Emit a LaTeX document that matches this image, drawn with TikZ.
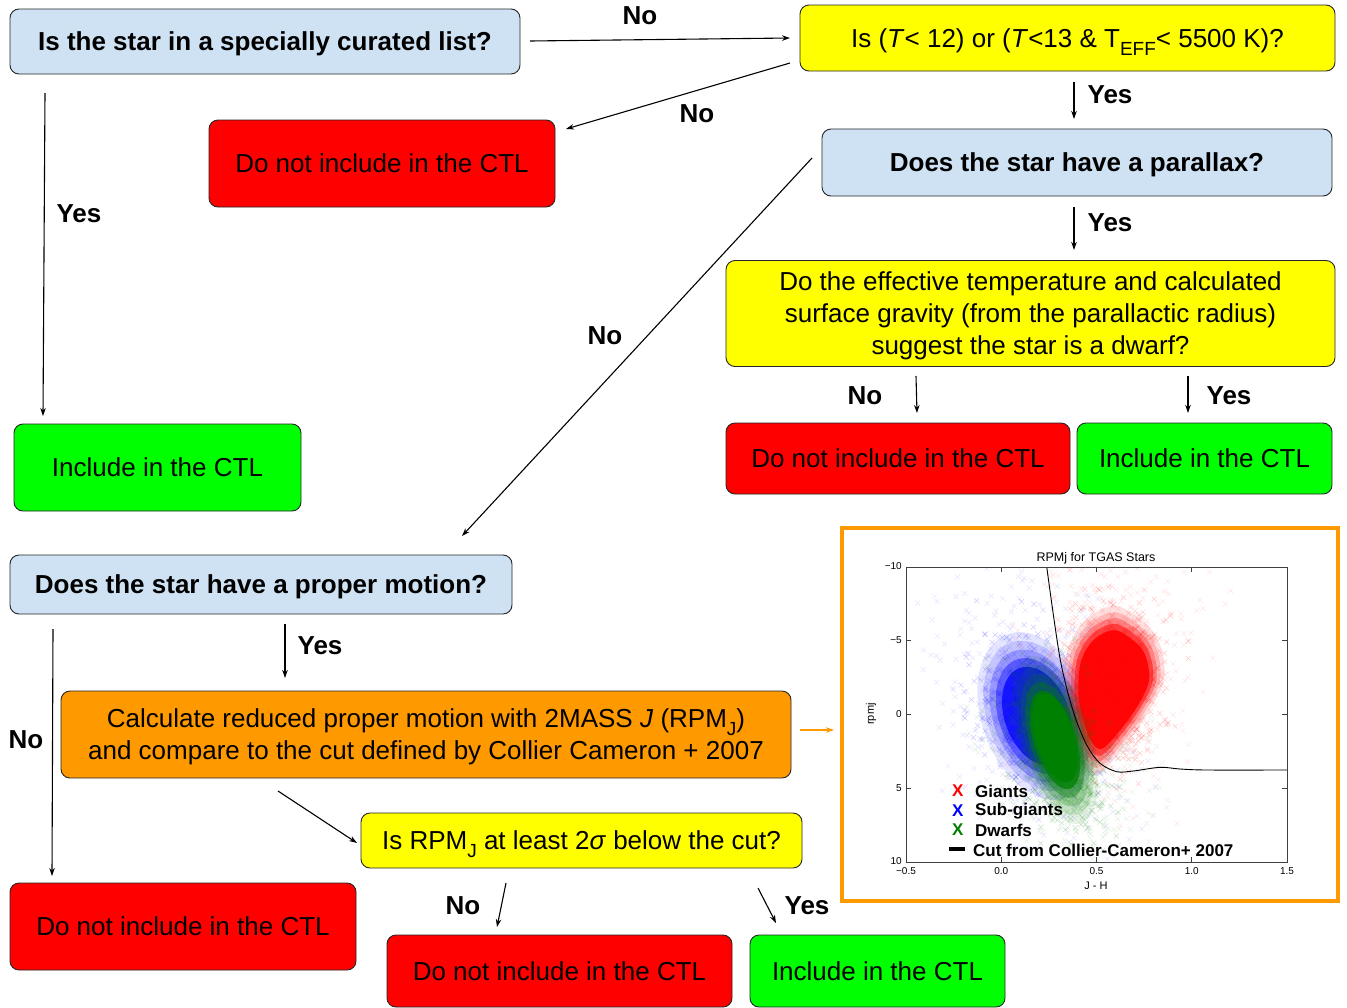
\documentclass[tikz,border=0pt]{standalone}
\usepackage{fontspec}
\setmainfont{Liberation Sans}
\usetikzlibrary{arrows.meta}
\definecolor{lblue}{HTML}{CFE2F3}
\definecolor{yel}{HTML}{FFFF00}
\definecolor{rd}{HTML}{FF0000}
\definecolor{gr}{HTML}{00FF00}
\definecolor{org}{HTML}{FF9900}
\definecolor{mgreen}{HTML}{008000}
\definecolor{mblue}{HTML}{0000FF}
\newcommand\starcloud[8]{%
  \foreach \k in {1,...,#7}{%
    \pgfmathsetmacro\cga{rand+rand+rand}%
    \pgfmathsetmacro\cgb{rand+rand+rand}%
    \pgfmathsetmacro\cqx{#2+#4*\cga*cos(#6)-#5*\cgb*sin(#6)}%
    \pgfmathsetmacro\cqy{#3+#4*\cga*sin(#6)+#5*\cgb*cos(#6)}%
    \draw[#1, opacity=#8, line width=.5pt] (\cqx-2.5,\cqy-2.5)--(\cqx+2.5,\cqy+2.5) (\cqx-2.5,\cqy+2.5)--(\cqx+2.5,\cqy-2.5);
  }}
\newcommand\coreell[7]{%
  \fill[#1, opacity=#7] plot[domain=0:352.5, samples=48, smooth cycle, variable=\s]
   ({#2+#4*cos(\s)*cos(#6)-#5*sin(\s)*sin(#6)},{#3+#4*cos(\s)*sin(#6)+#5*sin(\s)*cos(#6)});}
\newcommand\softell[6]{% color cx cy a b t : layered soft ellipse
  \foreach \f/\o in {1.45/0.10,1.3/0.14,1.15/0.22,1.0/0.4,0.85/0.75}{%
    \coreell{#1}{#2}{#3}{#4*\f}{#5*\f}{#6}{\o}}}
\begin{document}
\begin{tikzpicture}[x=1pt,y=-1pt,
  box/.style={draw=black!85, line width=0.9pt, rounded corners=9pt, align=center,
    font=\fontsize{26}{32}\selectfont, inner sep=0pt, text depth=0pt},
  bbox/.style={box, font=\fontsize{26}{32}\selectfont\bfseries},
  arr/.style={-{Stealth[length=8pt,width=5.5pt]}, line width=1.1pt},
  lbl/.style={font=\fontsize{26}{32}\selectfont\bfseries, inner sep=0pt},
  tick/.style={font=\fontsize{10}{12}\selectfont, inner sep=0pt},
  leg/.style={font=\fontsize{17}{20}\selectfont\bfseries, inner sep=0pt, anchor=west},
]
\useasboundingbox[fill=white] (0,0) rectangle (1347,1007);

% ---------- boxes ----------
\node[bbox, fill=lblue, minimum width=510pt, minimum height=65pt] (q1) at (265,41.5) {Is the star in a specially curated list?};
\node[box, fill=yel, minimum width=535pt, minimum height=66pt] (q2) at (1067.5,38) {Is (\textit{T}< 12) or (\textit{T}<13 \& T\raisebox{-0.3em}{\fontsize{19}{20}\selectfont EFF}< 5500 K)?};
\node[box, fill=rd, minimum width=346pt, minimum height=87pt] (r1) at (382,163.5) {Do not include in the CTL};
\node[bbox, fill=lblue, minimum width=510pt, minimum height=67pt] (q3) at (1077,162.5) {Does the star have a parallax?};
\node[box, fill=yel, minimum width=609pt, minimum height=106pt] (q4) at (1030.5,313.5) {Do the effective temperature and calculated\\surface gravity (from the parallactic radius)\\suggest the star is a dwarf?};
\node[box, fill=gr, minimum width=287pt, minimum height=87pt] (g1) at (157.5,467.5) {Include in the CTL};
\node[box, fill=rd, minimum width=344pt, minimum height=71pt] (r2) at (898,458.5) {Do not include in the CTL};
\node[box, fill=gr, minimum width=255pt, minimum height=71pt] (g2) at (1204.5,458.5) {Include in the CTL};
\node[bbox, fill=lblue, minimum width=502pt, minimum height=59pt] (q5) at (261,584.5) {Does the star have a proper motion?};
\node[box, fill=org, minimum width=730pt, minimum height=87pt] (c1) at (426,734.5) {Calculate reduced proper motion with 2MASS \textit{J} (RPM\raisebox{-0.3em}{\fontsize{19}{20}\selectfont J})\\and compare to the cut defined by Collier Cameron + 2007};
\node[box, fill=yel, minimum width=441pt, minimum height=55pt] (q6) at (581.5,840.5) {Is RPM\raisebox{-0.3em}{\fontsize{19}{20}\selectfont J} at least 2\textit{σ} below the cut?};
\node[box, fill=rd, minimum width=346pt, minimum height=87pt] (r3) at (183,926.5) {Do not include in the CTL};
\node[box, fill=rd, minimum width=345pt, minimum height=72pt] (r4) at (559.5,971) {Do not include in the CTL};
\node[box, fill=gr, minimum width=255pt, minimum height=72pt] (g3) at (877.5,971) {Include in the CTL};

% ---------- connector end points ----------
\coordinate (a1s) at (530,41);   \coordinate (a1e) at (790,38);
\coordinate (a2s) at (790,63);   \coordinate (a2e) at (566,129);
\coordinate (a3s) at (1074,82);  \coordinate (a3e) at (1074,119);
\coordinate (a4s) at (45,93);    \coordinate (a4e) at (43,416);
\coordinate (a5s) at (812,158);  \coordinate (a5e) at (462,536);
\coordinate (a6s) at (1074,207); \coordinate (a6e) at (1074,250);
\coordinate (a7s) at (916,376);  \coordinate (a7e) at (917,413);
\coordinate (a8s) at (1188,376); \coordinate (a8e) at (1188,413);
\coordinate (a9s) at (285,624);  \coordinate (a9e) at (285,678);
\coordinate (a10s) at (53,629);  \coordinate (a10e) at (52,876);
\coordinate (a11s) at (278,791); \coordinate (a11e) at (357,843);
\coordinate (a12s) at (800,730); \coordinate (a12e) at (834,730);
\coordinate (a13s) at (506,883); \coordinate (a13e) at (497,927);
\coordinate (a14s) at (758,888); \coordinate (a14e) at (776,923);

\draw[arr] (a1s) -- (a1e);
\draw[arr] (a2s) -- (a2e);
\draw[arr] (a3s) -- (a3e);
\draw[arr] (a4s) -- (a4e);
\draw[arr] (a5s) -- (a5e);
\draw[arr] (a6s) -- (a6e);
\draw[arr] (a7s) -- (a7e);
\draw[arr] (a8s) -- (a8e);
\draw[arr] (a9s) -- (a9e);
\draw[arr] (a10s) -- (a10e);
\draw[arr] (a11s) -- (a11e);
\draw[arr, org] (a12s) -- (a12e);
\draw[arr] (a13s) -- (a13e);
\draw[arr] (a14s) -- (a14e);

% ---------- labels ----------
\node[lbl] (l1) at (640,16) {No};
\node[lbl] (l2) at (697,114) {No};
\node[lbl] (l3) at (1110,95) {Yes};
\node[lbl] (l4) at (79,214) {Yes};
\node[lbl] (l5) at (605,336) {No};
\node[lbl] (l6) at (1110,223) {Yes};
\node[lbl] (l7) at (865,396) {No};
\node[lbl] (l8) at (1229,396) {Yes};
\node[lbl] (l9) at (320,646) {Yes};
\node[lbl] (l10) at (26,740) {No};
\node[lbl] (l11) at (463,906) {No};
\node[lbl] (l12) at (807,906) {Yes};

% ---------- plot panel ----------
\node[draw=org, line width=3.5pt, fill=white, minimum width=496pt, minimum height=373pt, inner sep=0pt] (panel) at (1090,714.5) {};
\begin{scope}
\clip (906,567) rectangle (1287,862);
\pgfmathsetseed{7}
% faint outer scatter
\starcloud{rd}{1113}{670}{65}{42}{95}{450}{0.10}
\starcloud{mblue}{1030}{705}{70}{45}{70}{500}{0.10}
\starcloud{mgreen}{1068}{768}{55}{38}{65}{400}{0.10}
% blue
\softell{mblue}{1037}{716}{60}{38}{70}
\starcloud{mblue}{1035}{712}{40}{28}{70}{350}{0.2}
% red
\starcloud{rd}{1113}{682}{40}{28}{95}{500}{0.2}
\foreach \f/\o in {1.28/0.12,1.18/0.18,1.09/0.28,1.0/0.5,0.9/0.9}{
  \fill[rd, opacity=\o, scale around={\f:(1113,688)}] plot[smooth cycle] coordinates {(1117,624) (1146,646) (1153,680) (1135,716) (1102,755) (1086,742) (1075,700) (1077,660) (1092,634)};}
% green
\starcloud{mgreen}{1060}{752}{42}{22}{72}{400}{0.22}
\softell{mgreen}{1055}{740}{60}{25}{73}
\coreell{mgreen}{1055}{738}{46}{19}{73}{1}
\draw[black, line width=0.9pt] plot[smooth] coordinates {(1046.7,566.7) (1060,658.3) (1073.3,711.7) (1086.7,745) (1100,763.3) (1116.7,771.7) (1133.3,771) (1160,767.3) (1180,769) (1206.7,770) (1287,770)};
\end{scope}
\draw[black!75, line width=0.8pt] (906,567) rectangle (1287,862);
% ticks
\foreach \tx in {906,1001.25,1096.5,1191.75,1287}{
  \draw[black!75, line width=0.6pt] (\tx,862) -- (\tx,857) (\tx,567) -- (\tx,572);}
\foreach \ty in {567,640.75,714.5,788.25,862}{
  \draw[black!75, line width=0.6pt] (906,\ty) -- (911,\ty) (1287,\ty) -- (1282,\ty);}
\node[tick] (xt1) at (906,871) {−0.5};
\node[tick] (xt2) at (1001.25,871) {0.0};
\node[tick] (xt3) at (1096.5,871) {0.5};
\node[tick] (xt4) at (1191.75,871) {1.0};
\node[tick] (xt5) at (1287,871) {1.5};
\node[tick, anchor=east] (yt1) at (902,566) {−10};
\node[tick, anchor=east] (yt2) at (902,640) {−5};
\node[tick, anchor=east] (yt3) at (902,714) {0};
\node[tick, anchor=east] (yt4) at (902,788) {5};
\node[tick, anchor=east] (yt5) at (902,861) {10};
\node[tick, font=\fontsize{11}{13}\selectfont] (xl) at (1096,886) {J - H};
\node[tick, font=\fontsize{11}{13}\selectfont, rotate=90] (yl) at (871,714) {rpmj};
\node[tick, font=\fontsize{12.5}{15}\selectfont] (ttl) at (1096,558) {RPMj for TGAS Stars};
% legend
\node[leg, text=rd] (m1) at (952,791) {X};
\node[leg] (t1) at (975,791) {Giants};
\node[leg, text=mblue] (m2) at (952,811) {X};
\node[leg] (t2) at (975,811) {Sub-giants};
\node[leg, text=mgreen] (m3) at (952,830) {X};
\node[leg] (t3) at (975,830) {Dwarfs};
\draw[black, line width=4.5pt] (949,849) -- (965,849);
\node[leg] (t4) at (973,850) {Cut from Collier-Cameron+ 2007};
\end{tikzpicture}
\end{document}
